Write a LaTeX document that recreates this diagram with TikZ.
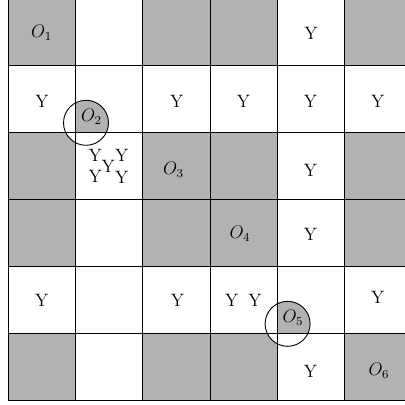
\documentclass[tikz,border=0pt]{standalone}
\begin{document}
\begin{tikzpicture}[x=0.66pt,y=-0.66pt,
  graycell/.style={fill=black!30},
  gridline/.style={line width=0.6pt,black},
  ring/.style={line width=0.6pt,black},
  lab/.style={inner sep=0pt,font=\fontsize{11.8}{14}\selectfont}]
\useasboundingbox (0,0) rectangle (405,404);
\clip (0,0) rectangle (405,404);
% gray cells
\foreach \r in {0,2,3,5}{
  \foreach \c in {0,2,3,5}{
    \fill[graycell] (8.5+67.2*\c,-1.2+67*\r) rectangle ++(67.2,67);
  }
}
% circles with shaded quadrant
\coordinate (c2) at (86,122.8);
\coordinate (k2) at (75.7,132.8);
\coordinate (c5) at (287.6,323.8);
\coordinate (k5) at (277.3,333.8);
\fill[white] (c2) circle (22.5);
\fill[white] (c5) circle (22.5);
\begin{scope}
  \clip (k2) rectangle ++(40,-40);
  \fill[graycell] (c2) circle (22.5);
\end{scope}
\begin{scope}
  \clip (k5) rectangle ++(40,-40);
  \fill[graycell] (c5) circle (22.5);
\end{scope}
% grid
\foreach \c in {0,...,6}{
  \draw[gridline] (8.5+67.2*\c,-1.2) -- (8.5+67.2*\c,400.8);
}
\foreach \r in {0,...,6}{
  \draw[gridline] (8.5,-1.2+67*\r) -- (411.7,-1.2+67*\r);
}
\draw[ring] (c2) circle (22.5);
\draw[ring] (c5) circle (22.5);
% labels
\node[lab] (o1) at (41.6,33) {$O_1$};
\node[lab] (o2) at (91.5,116.5) {$O_2$};
\node[lab] (o3) at (173.5,170) {$O_3$};
\node[lab] (o4) at (240,233.5) {$O_4$};
\node[lab] (o5) at (293,318) {$O_5$};
\node[lab] (o6) at (379,371) {$O_6$};
\node[lab] (y04) at (311,33) {Y};
\node[lab] (y10) at (42,101.5) {Y};
\node[lab] (y12) at (176.7,101.5) {Y};
\node[lab] (y13) at (243.5,101.5) {Y};
\node[lab] (y14) at (310.5,101.5) {Y};
\node[lab] (y15) at (377.8,101.5) {Y};
\node[lab] (ya) at (95.3,155.3) {Y};
\node[lab] (yb) at (121.8,155.3) {Y};
\node[lab] (yc) at (108.3,166.5) {Y};
\node[lab] (yd) at (95.3,176.8) {Y};
\node[lab] (ye) at (121.8,177.8) {Y};
\node[lab] (y24) at (310.5,170) {Y};
\node[lab] (y34) at (310.5,234) {Y};
\node[lab] (y40) at (41.7,300) {Y};
\node[lab] (y42) at (177.5,300) {Y};
\node[lab] (y43a) at (231.7,300) {Y};
\node[lab] (y43b) at (255,300) {Y};
\node[lab] (y45) at (377.7,297.5) {Y};
\node[lab] (y54) at (310.5,371) {Y};
\end{tikzpicture}
\end{document}
